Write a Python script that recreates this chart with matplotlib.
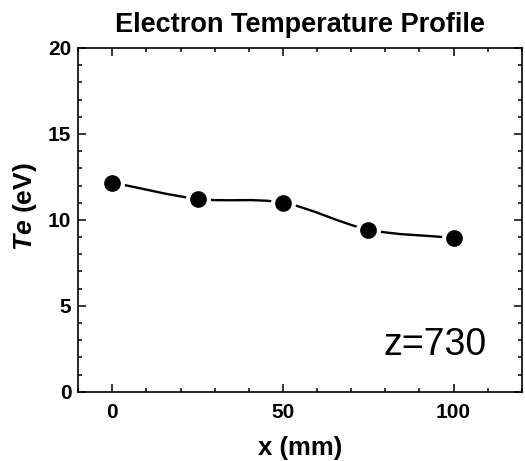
import numpy as np
import matplotlib.pyplot as plt
from matplotlib.path import Path
from matplotlib.patches import PathPatch
from matplotlib.ticker import MultipleLocator

# Electron temperature at z=730
x_mm = [0, 25, 50, 75, 100]
te_ev = [12.17, 11.22, 11.0, 9.44, 8.95]

plt.rcParams['font.family'] = 'Liberation Sans'
plt.rcParams['mathtext.fontset'] = 'custom'
plt.rcParams['mathtext.it'] = 'Liberation Sans:italic:bold'
plt.rcParams['mathtext.rm'] = 'Liberation Sans:bold'

fig = plt.figure(figsize=(5.25, 4.61), dpi=100)
ax = fig.add_axes([0.149, 0.150, 0.845, 0.746])

# smooth curve through the points (Catmull-Rom as cubic Bezier segments)
pts = np.column_stack([x_mm, te_ev])
ext = np.vstack([2 * pts[0] - pts[1], pts, 2 * pts[-1] - pts[-2]])
verts = [tuple(pts[0])]
codes = [Path.MOVETO]
for i in range(1, len(ext) - 2):
    p0, p1, p2, p3 = ext[i - 1], ext[i], ext[i + 1], ext[i + 2]
    c1 = p1 + (p2 - p0) / 6
    c2 = p2 - (p3 - p1) / 6
    verts += [tuple(c1), tuple(c2), tuple(p2)]
    codes += [Path.CURVE4] * 3
ax.add_patch(PathPatch(Path(verts, codes), facecolor='none', edgecolor='black', lw=1.7, zorder=2))

# white halo then black dots
ax.plot(x_mm, te_ev, 'o', color='white', ms=17, zorder=3)
ax.plot(x_mm, te_ev, 'o', color='black', ms=11, zorder=4)

ax.set_xlim(-10, 120)
ax.set_ylim(0, 20)
ax.xaxis.set_major_locator(MultipleLocator(50))
ax.xaxis.set_minor_locator(MultipleLocator(10))
ax.yaxis.set_major_locator(MultipleLocator(5))
ax.yaxis.set_minor_locator(MultipleLocator(1))
ax.tick_params(which='both', direction='in', top=True, right=True, width=1.1)
ax.tick_params(which='major', length=6, labelsize=15)
ax.tick_params(which='minor', length=3)
ax.tick_params(axis='x', which='major', pad=8)
ax.tick_params(axis='y', which='major', pad=5)
for lab in ax.get_xticklabels() + ax.get_yticklabels():
    lab.set_fontweight('bold')
for s in ax.spines.values():
    s.set_linewidth(1.2)

fig.text(300 / 525, 1 - 32 / 461, 'Electron Temperature Profile', fontsize=19.5,
         fontweight='bold', ha='center', va='baseline')
ax.set_xlabel('x (mm)', fontsize=18.5, fontweight='bold', labelpad=10)
fig.text(25 / 525, 1 - 207 / 461, r'$\mathit{Te}$ (eV)', fontsize=19, fontweight='bold',
         rotation=90, ha='center', va='center')
ax.text(0.921, 0.108, 'z=730', transform=ax.transAxes, fontsize=27, ha='right', va='baseline')

fig.savefig('out.png', dpi=100)
